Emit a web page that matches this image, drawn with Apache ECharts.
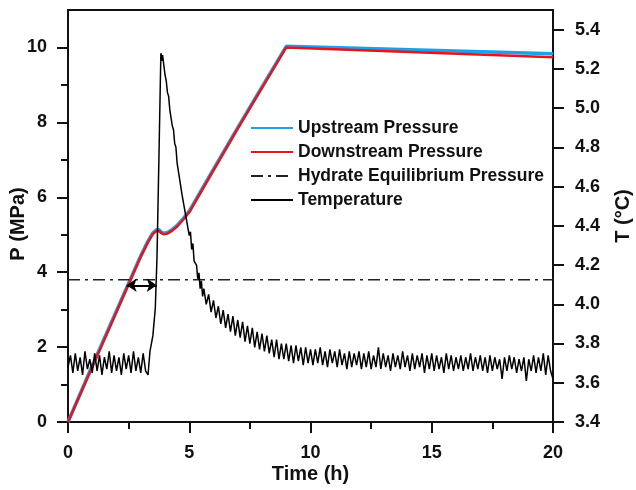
<!DOCTYPE html>
<html><head><meta charset="utf-8">
<script src="https://cdn.jsdelivr.net/npm/echarts@6/dist/echarts.min.js"></script>
<style>html,body{margin:0;padding:0;background:#fff}#c{width:636px;height:490px}</style>
</head><body><div id="c"></div>
<script>
const seriesNames = ['Upstream Pressure','Downstream Pressure','Hydrate Equilibrium Pressure','Temperature'];
const pressTime = [0, 1, 2, 3, 3.3, 3.5, 3.65, 3.75, 3.85, 3.95, 4.1, 4.3, 4.5, 4.75, 5.0, 6, 7, 8, 9, 20];
const downP = [0, 1.47, 2.94, 4.41, 4.80, 5.02, 5.10, 5.10, 5.04, 5.01, 5.03, 5.11, 5.22, 5.40, 5.60, 6.72, 7.83, 8.92, 10.00, 9.74];
const upP = [0, 1.50, 2.97, 4.44, 4.83, 5.05, 5.13, 5.13, 5.07, 5.04, 5.06, 5.14, 5.25, 5.43, 5.63, 6.75, 7.86, 8.95, 10.03, 9.83];
const hydrateTime = [0, 20];
const hydrateP = [3.8, 3.8];
const arrowTime = [2.42, 3.66];
const arrowP = 3.65;
const tempTime = [
0.0,0.1,0.2,0.3,0.4,0.5,0.6,0.7,0.8,0.9,1.0,1.1,1.2,1.3,1.4,1.5,1.6,1.7,1.8,1.9,
2.0,2.1,2.2,2.3,2.4,2.5,2.6,2.7,2.8,2.9,3.0,3.1,3.2,3.3,3.38,3.5,3.6,3.67,3.75,3.83,
3.87,3.9,3.95,4.0,4.05,4.1,4.15,4.2,4.25,4.3,4.35,4.4,4.45,4.5,4.55,4.6,4.65,4.7,4.75,4.8,
4.85,4.9,4.95,5.0,5.05,5.1,5.15,5.2,5.3,5.35,5.4,5.45,5.5,5.55,5.6,5.7,5.8,5.9,6.0,6.1,
6.2,6.3,6.4,6.5,6.6,6.7,6.8,6.9,7.0,7.1,7.2,7.3,7.4,7.5,7.6,7.7,7.8,7.9,8.0,8.1,
8.2,8.3,8.4,8.5,8.6,8.7,8.8,8.9,9.0,9.1,9.2,9.3,9.4,9.5,9.6,9.7,9.8,9.9,10.0,10.1,
10.2,10.3,10.4,10.5,10.6,10.7,10.8,10.9,11.0,11.1,11.2,11.3,11.4,11.5,11.6,11.7,11.8,11.9,12.0,12.1,
12.2,12.3,12.4,12.5,12.6,12.7,12.8,12.9,13.0,13.1,13.2,13.3,13.4,13.5,13.6,13.7,13.8,13.9,14.0,14.1,
14.2,14.3,14.4,14.5,14.6,14.7,14.8,14.9,15.0,15.1,15.2,15.3,15.4,15.5,15.6,15.7,15.8,15.9,16.0,16.1,
16.2,16.3,16.4,16.5,16.6,16.7,16.8,16.9,17.0,17.1,17.2,17.3,17.4,17.5,17.6,17.7,17.8,17.9,18.0,18.1,
18.2,18.3,18.4,18.5,18.6,18.7,18.8,18.9,19.0,19.1,19.2,19.3,19.4,19.5,19.6,19.7,19.8,19.9,20.0];
const tempC = [
3.68,3.74,3.65,3.75,3.66,3.73,3.64,3.76,3.67,3.72,3.65,3.75,3.66,3.74,3.64,3.73,3.67,3.76,3.65,3.74,
3.66,3.73,3.64,3.75,3.67,3.74,3.65,3.76,3.66,3.73,3.65,3.75,3.66,3.64,3.76,3.84,3.98,4.24,4.75,5.28,
5.24,5.27,5.22,5.17,5.14,5.08,5.06,4.99,4.98,4.91,4.89,4.82,4.80,4.72,4.71,4.64,4.63,4.56,4.56,4.49,
4.49,4.42,4.43,4.35,4.37,4.28,4.31,4.22,4.20,4.13,4.16,4.08,4.12,4.04,4.08,4.00,4.05,3.96,4.02,3.93,
3.99,3.90,3.97,3.88,3.95,3.86,3.94,3.84,3.92,3.83,3.91,3.81,3.89,3.80,3.88,3.78,3.86,3.77,3.85,3.76,
3.84,3.75,3.82,3.73,3.82,3.72,3.80,3.72,3.80,3.71,3.79,3.70,3.79,3.71,3.78,3.69,3.78,3.70,3.77,3.69,
3.77,3.70,3.78,3.69,3.76,3.68,3.77,3.70,3.76,3.68,3.77,3.69,3.75,3.67,3.76,3.68,3.75,3.69,3.76,3.67,
3.75,3.68,3.76,3.67,3.74,3.68,3.78,3.67,3.75,3.68,3.74,3.66,3.75,3.68,3.74,3.67,3.76,3.68,3.74,3.66,
3.75,3.67,3.74,3.68,3.75,3.65,3.74,3.67,3.75,3.66,3.74,3.67,3.73,3.65,3.75,3.67,3.74,3.66,3.73,3.67,
3.74,3.66,3.73,3.67,3.75,3.66,3.73,3.67,3.74,3.66,3.73,3.65,3.74,3.66,3.73,3.67,3.72,3.62,3.73,3.66,
3.74,3.67,3.73,3.65,3.72,3.66,3.73,3.61,3.72,3.66,3.74,3.65,3.73,3.66,3.75,3.64,3.74,3.66,3.62];
const xTicks = [0, 5, 10, 15, 20];
const pTicks = [0, 2, 4, 6, 8, 10];
const pMinorTicks = [1, 3, 5, 7, 9];
const tTicks = [3.4, 3.6, 3.8, 4.0, 4.2, 4.4, 4.6, 4.8, 5.0, 5.2, 5.4];

const pairs = (xs, ys) => xs.map((x, i) => [x, ys[i]]);
const FONT = 'Arial, "Liberation Sans", sans-serif';
const lbl = {color:'#111', fontWeight:'bold', fontSize:18, fontFamily:FONT};
const nameStyle = {color:'#111', fontWeight:'bold', fontSize:20, fontFamily:FONT};
const axisLine = {show:true, lineStyle:{color:'#111', width:2}};
const noSym = {color:'rgba(0,0,0,0)', borderWidth:0, opacity:0};

const chart = echarts.init(document.getElementById('c'), null, {renderer:'canvas'});
chart.setOption({
  animation:false,
  backgroundColor:'#fff',
  grid:{left:68, right:83, top:10, bottom:68, outerBoundsMode:'none', containLabel:false,
        show:true, borderColor:'#111', borderWidth:2, backgroundColor:'transparent'},
  legend:{
    data:seriesNames, orient:'vertical', left:250, top:119, padding:0,
    itemWidth:42, itemHeight:14, itemGap:6,
    itemStyle:{opacity:0, borderWidth:0},
    textStyle:{color:'#111', fontWeight:'bold', fontSize:17.5, fontFamily:FONT}
  },
  xAxis:{
    type:'value', min:0, max:20, interval:5,
    name:'Time (h)', nameLocation:'middle', nameGap:42, nameMoveOverlap:false, nameTextStyle:nameStyle,
    axisLine:axisLine, axisTick:{show:true, length:11, lineStyle:{color:'#111', width:2}, customValues:xTicks},
    minorTick:{show:true, splitNumber:2, length:7, lineStyle:{color:'#111', width:2}},
    axisLabel:Object.assign({customValues:xTicks, margin:22}, lbl),
    splitLine:{show:false}
  },
  yAxis:[{
    type:'value', min:0, max:11, position:'left',
    name:'P (MPa)', nameLocation:'middle', nameGap:40, nameMoveOverlap:false,
    nameTextStyle:Object.assign({padding:[0,16,0,0]}, nameStyle),
    axisLine:axisLine, axisTick:{show:true, length:11, lineStyle:{color:'#111', width:2}, customValues:pTicks},
    axisLabel:Object.assign({customValues:pTicks, margin:21}, lbl),
    splitLine:{show:false}
  },{
    type:'value', min:3.4, max:5.5, position:'right',
    name:'T (°C)', nameLocation:'middle', nameGap:60, nameMoveOverlap:false, nameTextStyle:nameStyle,
    axisLine:axisLine, axisTick:{show:true, length:11, lineStyle:{color:'#111', width:2}, customValues:tTicks},
    axisLabel:Object.assign({customValues:tTicks, margin:22, formatter:v=>Number(v).toFixed(1)}, lbl),
    splitLine:{show:false}
  },{
    type:'value', min:0, max:11, position:'left',
    axisLine:{show:false}, axisTick:{show:true, length:7, lineStyle:{color:'#111', width:2}, customValues:pMinorTicks},
    axisLabel:{show:false}, splitLine:{show:false}
  }],
  series:[{
    name:seriesNames[0], type:'line', yAxisIndex:0, showSymbol:false,
    data:pairs(pressTime, upP), lineStyle:{color:'#1ea0e8', width:3.5}, itemStyle:noSym, z:2
  },{
    name:seriesNames[1], type:'line', yAxisIndex:0, showSymbol:false,
    data:pairs(pressTime, downP), lineStyle:{color:'#e8141c', width:2.5}, itemStyle:noSym, z:3
  },{
    name:seriesNames[2], type:'line', yAxisIndex:0, showSymbol:false,
    data:pairs(hydrateTime, hydrateP), lineStyle:{color:'#222', width:1.5, type:[12,5,3,5]}, itemStyle:noSym, z:2,
    markLine:{
      silent:true, symbol:['arrow','arrow'], symbolSize:[10,10],
      label:{show:false}, lineStyle:{type:'solid', color:'#000', width:2},
      itemStyle:{color:'#000', opacity:1},
      data:[[{coord:[arrowTime[0], arrowP]},{coord:[arrowTime[1], arrowP]}]]
    }
  },{
    name:seriesNames[3], type:'line', yAxisIndex:1, showSymbol:false,
    data:pairs(tempTime, tempC), lineStyle:{color:'#000', width:1.5}, itemStyle:noSym, z:4
  }]
});
</script></body></html>
